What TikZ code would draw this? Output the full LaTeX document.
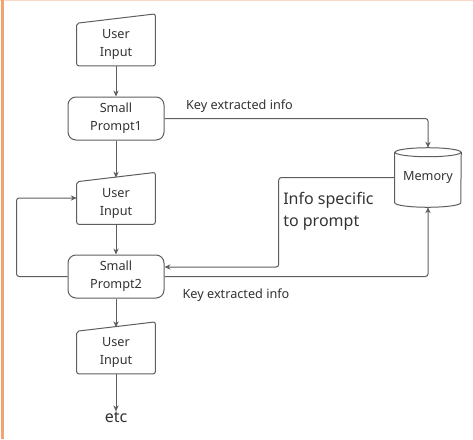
\documentclass[tikz,border=0pt]{standalone}
\usepackage{fontspec}
\setmainfont{Noto Sans}
\usepackage{xcolor}
\usetikzlibrary{arrows.meta,calc}
\definecolor{linegray}{HTML}{5E5E5E}
\definecolor{textgray}{HTML}{333333}
\definecolor{pageorange}{HTML}{F2A36F}
\tikzset{
    box-text/.style = {text=textgray, font=\fontsize{9.5}{13.5}\selectfont, align=center, inner sep=0pt},
    prompt-box/.style = {box-text, draw=linegray, line width=0.75pt, rectangle, rounded corners=6pt, minimum width=72pt, minimum height=32.25pt},
    input-box/.style = {box-text, minimum width=58.5pt, minimum height=31.5pt},
    input-line/.style = {draw=linegray, line width=0.75pt, rounded corners=1.5pt},
    link/.style = {draw=linegray, line width=0.75pt, rounded corners=2pt, -{Stealth[length=4.5pt,width=4pt]}},
    link-label/.style = {text=textgray, font=\fontsize{9.5}{13.5}\selectfont, inner sep=0pt},
}
\newcommand{\inputoutline}[1]{%
  \draw[input-line] (#1.south west) -- (#1.north west) -- ([yshift=7pt]#1.north east) -- (#1.south east) -- cycle;}

\begin{document}
\begin{tikzpicture}[x=0.75pt, y=-0.75pt]
\useasboundingbox (0,0) rectangle (473,439);
\fill[white] (0,0) rectangle (473,439);
\draw[pageorange!40, line width=0.75pt] (0,0.5) -- (473,0.5);
\fill[pageorange] (1,0) rectangle (3.5,439);

% main column
\node[input-box] (input1) at (116,44.5) {User\\Input};
\inputoutline{input1}
\node[prompt-box] (prompt1) at (116,118.5) {Small\\Prompt1};
\node[input-box] (input2) at (116,203) {User\\Input};
\inputoutline{input2}
\node[prompt-box] (prompt2) at (116,276.5) {Small\\Prompt2};
\node[input-box] (input3) at (116,352.5) {User\\Input};
\inputoutline{input3}
\node[text=textgray, font=\fontsize{12}{16.5}\selectfont, inner sep=0pt] (etc) at (116,417) {etc};

% memory store
\node[box-text, minimum width=49.5pt, minimum height=44.25pt] (memory) at (428,177.5) {Memory};
\draw[input-line, rounded corners=0pt]
  ($(memory.north west)+(0,4.5)$) -- ($(memory.south west)+(0,-4.5)$)
  arc[start angle=180, end angle=0, x radius=33, y radius=4.5]
  -- ($(memory.north east)+(0,4.5)$);
\draw[input-line, rounded corners=0pt] ($(memory.north)+(0,4.5)$) ellipse[x radius=33, y radius=4.5];

% links
\draw[link] (input1.south) -- (prompt1.north);
\draw[link] (prompt1.south) -- ($(input2.north)+(0,-4)$);
\draw[link] (input2.south) -- (prompt2.north);
\draw[link] (prompt2.south) -- ($(input3.north)+(0,-4)$);
\draw[link] (input3.south) -- (etc.north);
\draw[link] (prompt2.west) -- ++(-51,0) |- ($(input2.west)+(0,-5)$);
\draw[link] (prompt1.east) -| (memory.north);
\draw[link] (memory.west) -- ++(-116,0) |- ($(prompt2.east)+(0,-9.5)$);
\draw[link] (prompt2.east) -| (memory.south);

% labels
\node[link-label] (key1) at (239.5,106) {Key extracted info};
\node[link-label, anchor=west, align=left, font=\fontsize{12}{16.5}\selectfont] (specific) at (283,211) {Info specific\\to prompt};
\node[link-label] (key2) at (236,295) {Key extracted info};
\end{tikzpicture}
\end{document}
